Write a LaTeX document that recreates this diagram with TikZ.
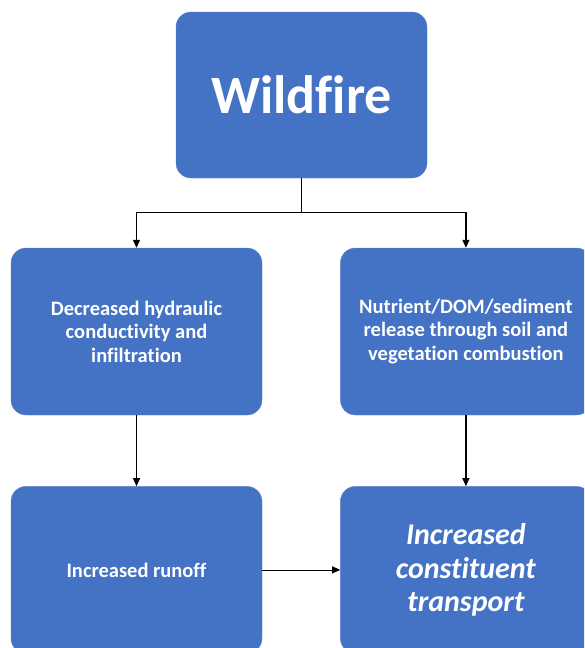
\documentclass[tikz,border=0pt]{standalone}
\usepackage{fontspec}
\setmainfont{Carlito}[Ligatures={NoCommon,NoRequired,NoContextual}]
\usetikzlibrary{positioning}
\usetikzlibrary{arrows.meta}
\definecolor{fireblue}{HTML}{4472C4}

\begin{document}
\begin{tikzpicture}[x=1pt, y=-1pt, node distance=71pt and 78pt, >={Triangle[length=8pt, width=7pt]}, font=\bfseries]
        \tikzset{
          box/.style={draw=fireblue!85!white, fill=fireblue, text=white, rounded corners=15pt,
            minimum width=251pt, minimum height=167pt, inner sep=0pt, align=center,
            font=\bfseries\fontsize{20.5}{23.5}\selectfont},
          link/.style={->, line width=1.2pt, black}
        }
        \useasboundingbox (0,0) rectangle (584,648);
        \clip (0,0) rectangle (584,648);

        % Oberes Feld
        \node[box, minimum height=166pt, font=\bfseries\fontsize{54}{60}\selectfont] (wild) at (301.5,95) {Wildfire};

        % Mittlere Reihe
        \node[box] (decr) at (136.5,331.5) {Decreased hydraulic\\conductivity and\\infiltration};
        \node[box, right=78pt of decr] (nutr) {Nutrient/DOM/sediment\\release through soil and\\vegetation combustion};

        % Untere Reihe
        \node[box, below=71pt of decr] (runoff) {Increased runoff};
        \node[box, below=71pt of nutr, font=\bfseries\itshape\fontsize{30}{33.5}\selectfont] (transp) {Increased\\constituent\\transport};

        % Verzweigung
        \coordinate (split) at ([yshift=-34pt]wild.south);
        \draw[line width=1.2pt] (wild.south) -- (split);
        \draw[link] (split) -| (decr.north);
        \draw[link] (split) -| (nutr.north);

        % Senkrechte Pfeile
        \draw[link] (decr) -- (runoff);
        \draw[link] (nutr) -- (transp);

        % Waagrechter Pfeil
        \draw[link, line width=0.8pt] (runoff) -- (transp);
\end{tikzpicture}
\end{document}
